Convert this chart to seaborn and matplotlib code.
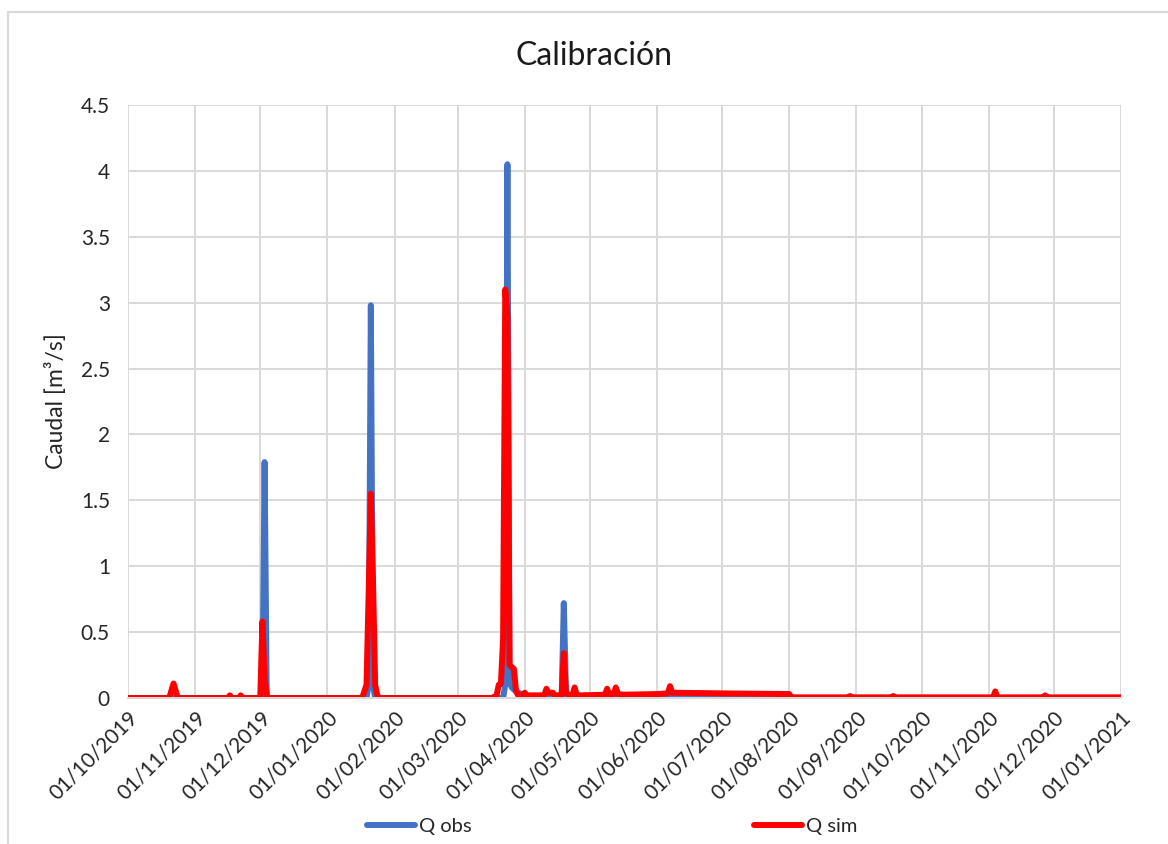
import matplotlib
matplotlib.use("Agg")
import matplotlib.pyplot as plt
import matplotlib.dates as mdates
import matplotlib.patches as mpatches
import numpy as np
import pandas as pd
import seaborn as sns

# ---------------- data (breakpoints) ----------------
obs_dates = ["2019-10-01", "2019-12-02", "2019-12-03", "2019-12-04",
             "2020-01-19", "2020-01-20", "2020-01-21", "2020-01-22", "2020-01-23",
             "2020-03-22", "2020-03-23", "2020-03-24", "2020-03-25",
             "2020-03-26", "2020-03-28", "2020-04-02",
             "2020-04-18", "2020-04-19", "2020-04-20", "2020-04-21",
             "2021-01-01"]
obs_values = [0.0, 0.0, 1.79, 0.0,
              0.0, 0.1, 2.98, 0.1, 0.0,
              0.0, 0.1, 4.05, 0.12,
              0.08, 0.05, 0.01,
              0.0, 0.72, 0.05, 0.0,
              0.0]

sim_dates = ["2019-10-01", "2019-10-20", "2019-10-22", "2019-10-24",
             "2019-11-16", "2019-11-17", "2019-11-18", "2019-11-21", "2019-11-22", "2019-11-23",
             "2019-12-01", "2019-12-02", "2019-12-03", "2019-12-04", "2019-12-05",
             "2020-01-17", "2020-01-19", "2020-01-20", "2020-01-21", "2020-01-22",
             "2020-01-23", "2020-01-24", "2020-01-25",
             "2020-03-17", "2020-03-19", "2020-03-20", "2020-03-21", "2020-03-22",
             "2020-03-23", "2020-03-24", "2020-03-25", "2020-03-27", "2020-03-28",
             "2020-03-29", "2020-03-31", "2020-04-01", "2020-04-02", "2020-04-04",
             "2020-04-10", "2020-04-11", "2020-04-12", "2020-04-14", "2020-04-15",
             "2020-04-17", "2020-04-18", "2020-04-19", "2020-04-20", "2020-04-22",
             "2020-04-23", "2020-04-24", "2020-04-25", "2020-04-27",
             "2020-05-08", "2020-05-09", "2020-05-10", "2020-05-12", "2020-05-13",
             "2020-05-14", "2020-05-16", "2020-06-01", "2020-06-06", "2020-06-07",
             "2020-06-08", "2020-07-01", "2020-08-01", "2020-08-02",
             "2020-08-28", "2020-08-29", "2020-08-30",
             "2020-09-17", "2020-09-18", "2020-09-19",
             "2020-11-03", "2020-11-04", "2020-11-05",
             "2020-11-26", "2020-11-27", "2020-11-28",
             "2021-01-01"]
sim_values = [0.0, 0.0, 0.11, 0.0,
              0.0, 0.02, 0.0, 0.0, 0.02, 0.0,
              0.0, 0.58, 0.15, 0.02, 0.0,
              0.0, 0.1, 0.8, 1.55, 0.9,
              0.1, 0.02, 0.0,
              0.0, 0.02, 0.1, 0.11, 0.45,
              3.1, 2.9, 0.25, 0.22, 0.05,
              0.02, 0.02, 0.04, 0.02, 0.02,
              0.02, 0.07, 0.04, 0.04, 0.02,
              0.02, 0.02, 0.34, 0.04, 0.015,
              0.02, 0.08, 0.02, 0.02,
              0.025, 0.07, 0.03, 0.03, 0.08,
              0.03, 0.025, 0.03, 0.035, 0.09,
              0.04, 0.035, 0.03, 0.005,
              0.005, 0.015, 0.005,
              0.005, 0.015, 0.005,
              0.005, 0.05, 0.005,
              0.005, 0.02, 0.005,
              0.005]

series_labels = ["Q obs", "Q sim"]
series_colors = ["#4472C4", "#FF0000"]
y_ticks = [0, 0.5, 1, 1.5, 2, 2.5, 3, 3.5, 4, 4.5]
y_tick_labels = ["0", "0.5", "1", "1.5", "2", "2.5", "3", "3.5", "4", "4.5"]
title_text = "Calibración"
ylabel_text = "Caudal [m³/s]"

# ---------------- figure ----------------
sns.set_theme(style="white")
plt.rcParams["font.family"] = ["Lato", "DejaVu Sans"]

W, H = 1168, 844
fig = plt.figure(figsize=(W / 100, H / 100), dpi=100)
ax = fig.add_axes([128 / W, 1 - 698 / H, (1121 - 128) / W, (698 - 105) / H])

# outer chart border
fig.patches.append(mpatches.Rectangle((8 / W, -0.1), 1.2, 1.1 - 12 / H,
                                      transform=fig.transFigure, fill=False,
                                      edgecolor="#D9D9D9", linewidth=1.5))

df_obs = pd.DataFrame({"fecha": pd.to_datetime(obs_dates), "Q": obs_values})
df_sim = pd.DataFrame({"fecha": pd.to_datetime(sim_dates), "Q": sim_values})

line_kw = dict(linewidth=4.3, solid_joinstyle="round", solid_capstyle="round")
sns.lineplot(data=df_obs, x="fecha", y="Q", ax=ax, color=series_colors[0],
             label=series_labels[0], **line_kw)
sns.lineplot(data=df_sim, x="fecha", y="Q", ax=ax, color=series_colors[1],
             label=series_labels[1], **line_kw)

ax.set_xlim(pd.Timestamp("2019-10-01"), pd.Timestamp("2021-01-01"))
ax.set_ylim(0, 4.5)
ax.set_yticks(y_ticks)
ax.set_yticklabels(y_tick_labels)
ax.xaxis.set_major_locator(mdates.MonthLocator(bymonthday=1))
ax.xaxis.set_major_formatter(mdates.DateFormatter("%d/%m/%Y"))

ax.grid(True, color="#D9D9D9", linewidth=1.4)
ax.set_axisbelow(True)
for s in ["top", "right", "left"]:
    ax.spines[s].set_visible(False)
ax.spines["bottom"].set_color("#D9D9D9")
ax.spines["bottom"].set_linewidth(1.4)

ax.tick_params(axis="both", length=0, labelsize=15, colors="#262626")
ax.tick_params(axis="y", pad=13)
ax.tick_params(axis="x", pad=7)
for lbl in ax.get_xticklabels():
    lbl.set_rotation(45)
    lbl.set_ha("right")
    lbl.set_rotation_mode("anchor")

ax.set_xlabel("")
ax.set_ylabel(ylabel_text, fontsize=16.5, color="#262626", labelpad=10)
fig.text(594 / W, 1 - 56 / H, title_text, ha="center", va="center",
         fontsize=23, color="#1a1a1a")

ax.legend_.remove()
handles, labels = ax.get_legend_handles_labels()
fig.legend(handles, labels, loc="center", bbox_to_anchor=(612 / W, 1 - 826 / H),
           ncol=2, frameon=False, fontsize=14.5, handlelength=2.4,
           handletextpad=0.2, columnspacing=14.0, labelcolor="#262626")

fig.savefig("out.png", dpi=100)
